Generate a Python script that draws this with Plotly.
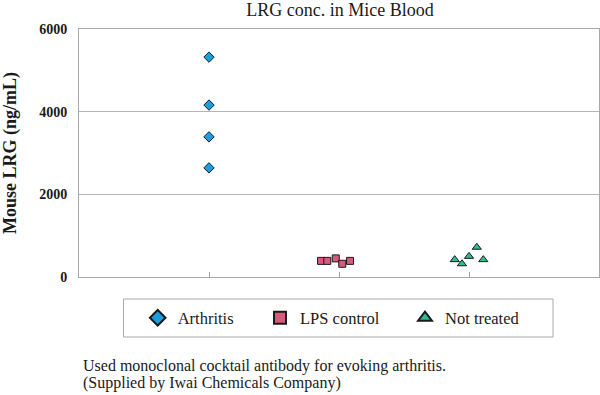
import plotly.graph_objects as go

# ---- data ----
groups = ["Arthritis", "LPS control", "Not treated"]
group_pos = [1, 2, 3]

arthritis_vals = [5320, 4160, 3390, 2640]
arthritis_jitter = [0.0, 0.0, 0.0, 0.0]

lps_vals = [390, 390, 450, 320, 390]
lps_jitter = [-0.138, -0.09, -0.025, 0.025, 0.085]

nottreated_vals = [420, 320, 500, 720, 420]
nottreated_jitter = [-0.11, -0.054, 0.0, 0.06, 0.11]

y_ticks = [0, 2000, 4000, 6000]

title_text = "LRG conc. in Mice Blood"
y_title = "Mouse LRG (ng/mL)"
note_lines = ["Used monoclonal cocktail antibody for evoking arthritis.",
              "(Supplied by Iwai Chemicals Company)"]

SERIF = "Liberation Serif, Times New Roman, serif"
INK = "#1a1a1a"

series = [
    (groups[0], group_pos[0], arthritis_vals, arthritis_jitter, "diamond", "#1a9ee0", 8, "legend"),
    (groups[1], group_pos[1], lps_vals, lps_jitter, "square", "#d75a7d", 7, "legend2"),
    (groups[2], group_pos[2], nottreated_vals, nottreated_jitter, "triangle-up", "#2fbb93", 8, "legend3"),
]

fig = go.Figure()
for name, pos, vals, jit, sym, col, size, leg in series:
    fig.add_trace(go.Scatter(
        x=[pos + j for j in jit], y=vals, mode="markers", name=name,
        marker=dict(symbol=sym, color=col, size=size,
                    line=dict(color=INK, width=1)),
        legend=leg, showlegend=True,
    ))

W, H = 600, 395
L, R, T, B = 79, 1, 29, 118
pw, ph = W - L - R, H - T - B

def px_x(p):
    return (p - L) / pw

def px_y(p):
    return (H - B - p) / ph

leg_common = dict(orientation="h", yanchor="middle", xanchor="left",
                  bgcolor="rgba(0,0,0,0)", borderwidth=0,
                  font=dict(family=SERIF, size=16.5, color=INK),
                  itemsizing="constant")

fig.update_layout(
    width=W, height=H,
    margin=dict(l=L, r=R, t=T, b=B),
    paper_bgcolor="white", plot_bgcolor="white",
    title=dict(text=title_text, xref="container", x=340 / W, xanchor="center",
               yref="container", y=1 - 9.5 / H, yanchor="middle",
               font=dict(family=SERIF, size=18, color=INK)),
    xaxis=dict(range=[0, 4], tickvals=group_pos, showticklabels=False,
               ticks="inside", ticklen=5, tickcolor="#a0a0a0",
               showgrid=False, zeroline=False,
               showline=True, linecolor="#a8a8a8", linewidth=1, mirror=True),
    yaxis=dict(range=[0, 6000], tickvals=y_ticks,
               ticktext=[str(v) for v in y_ticks],
               tickfont=dict(family=SERIF, size=14, color=INK, weight="bold"),
               ticks="", ticklabelstandoff=8,
               showgrid=True, gridcolor="#b4b4b4", gridwidth=1,
               zeroline=False,
               showline=True, linecolor="#a8a8a8", linewidth=1, mirror=True,
               title=dict(text=y_title, standoff=19,
                          font=dict(family=SERIF, size=18, color=INK, weight="bold"))),
    legend=dict(x=px_x(137.7), y=px_y(318), **leg_common),
    legend2=dict(x=px_x(260), y=px_y(318), **leg_common),
    legend3=dict(x=px_x(405), y=px_y(318), **leg_common),
    shapes=[dict(type="rect", xref="paper", yref="paper",
                 x0=px_x(123.5), x1=px_x(553), y0=px_y(337), y1=px_y(299),
                 line=dict(color="#a8a8a8", width=1), fillcolor="white",
                 layer="below")],
    annotations=[
        dict(text=note_lines[0], xref="paper", yref="paper", x=px_x(81), y=px_y(366),
             xanchor="left", yanchor="middle", showarrow=False,
             font=dict(family=SERIF, size=16, color=INK)),
        dict(text=note_lines[1], xref="paper", yref="paper", x=px_x(81), y=px_y(382.5),
             xanchor="left", yanchor="middle", showarrow=False,
             font=dict(family=SERIF, size=16, color=INK)),
    ],
    showlegend=True,
)

fig.write_html("out.html", config={"displayModeBar": False},
               post_script="document.body.style.margin='0';document.body.style.overflow='hidden';")
